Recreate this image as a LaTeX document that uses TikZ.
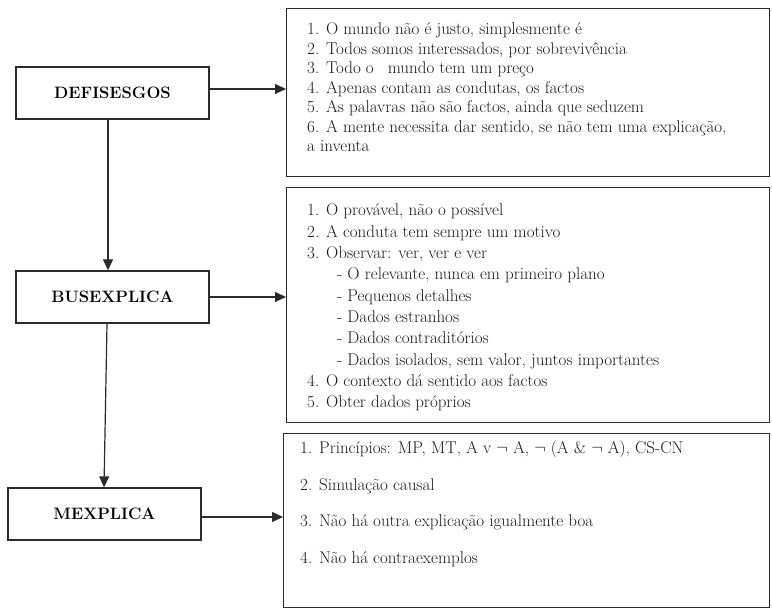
\documentclass[tikz,border=0pt]{standalone}
\usetikzlibrary{arrows.meta}
\definecolor{ink}{HTML}{2B2B2B}
\begin{document}
\begin{tikzpicture}[x=1pt,y=-1pt,
  lbox/.style={draw=ink, line width=1.3pt, minimum width=193pt, minimum height=52pt, inner sep=0pt, font=\fontsize{16.5}{18}\selectfont\bfseries},
  rbox/.style={draw=ink, line width=1.3pt, inner sep=0pt, anchor=north west},
  conn/.style={draw=ink, line width=1.2pt, -{Triangle[length=11pt,width=10pt]}},
  txt/.style={anchor=base west, inner sep=0pt, text=black!90}]
\useasboundingbox (0,0) rectangle (772,609);
% left boxes
\node[lbox] (def) at (112.5,93) {DEFISESGOS};
\node[lbox] (bus) at (112.5,297) {BUSEXPLICA};
\node[lbox] (mex) at (104.5,514) {MEXPLICA};
% right boxes
\node[rbox, minimum width=483pt, minimum height=168pt] (r1) at (286,8) {};
\node[rbox, minimum width=483pt, minimum height=235pt] (r2) at (286,187) {};
\node[rbox, minimum width=486pt, minimum height=174pt] (r3) at (283,433) {};
% texts
\node[txt] (t1) at (307,35) {\fontsize{17}{19.5}\selectfont
\begin{tabular}[t]{@{}l@{}}
1. O mundo não é justo, simplesmente é\\
2. Todos somos interessados, por sobrevivência\\
3. Todo o\hspace{14pt}mundo tem um preço\\
4. Apenas contam as condutas, os factos\\
5. As palavras não são factos, ainda que seduzem\\
6. A mente necessita dar sentido, se não tem uma explicação,\\
a inventa
\end{tabular}};
\node[txt] (t2) at (307,216) {\fontsize{17}{21.3}\selectfont
\begin{tabular}[t]{@{}l@{}}
1. O provável, não o possível\\
2. A conduta tem sempre um motivo\\
3. Observar: ver, ver e ver\\
\hspace*{30pt}- O relevante, nunca em primeiro plano\\
\hspace*{30pt}- Pequenos detalhes\\
\hspace*{30pt}- Dados estranhos\\
\hspace*{30pt}- Dados contraditórios\\
\hspace*{30pt}- Dados isolados, sem valor, juntos importantes\\
4. O contexto dá sentido aos factos\\
5. Obter dados próprios
\end{tabular}};
\node[txt] (t3) at (300,454) {\fontsize{17}{36.5}\selectfont
\begin{tabular}[t]{@{}l@{}}
1. Princípios: MP, MT, A v $\neg$ A, $\neg$ (A \& $\neg$ A), CS-CN\\
2. Simulação causal\\
3. Não há outra explicação igualmente boa\\
4. Não há contraexemplos
\end{tabular}};
% connectors
\coordinate (a1) at ([yshift=4pt]def.east);
\coordinate (a3) at ([yshift=-3pt]mex.east);
\draw[conn] (a1) -- (a1 -| r1.west);
\draw[conn] (bus.east) -- (bus.east -| r2.west);
\draw[conn] (a3) -- (a3 -| r3.west);
\coordinate (v1) at ([xshift=-4.5pt]def.south);
\coordinate (v2) at ([xshift=-4.5pt]bus.north);
\coordinate (v3) at ([xshift=-5.5pt]bus.south);
\coordinate (v4) at ([xshift=-0.5pt]mex.north);
\draw[conn] (v1) -- (v2);
\draw[conn] (v3) -- (v4);
\end{tikzpicture}
\end{document}
